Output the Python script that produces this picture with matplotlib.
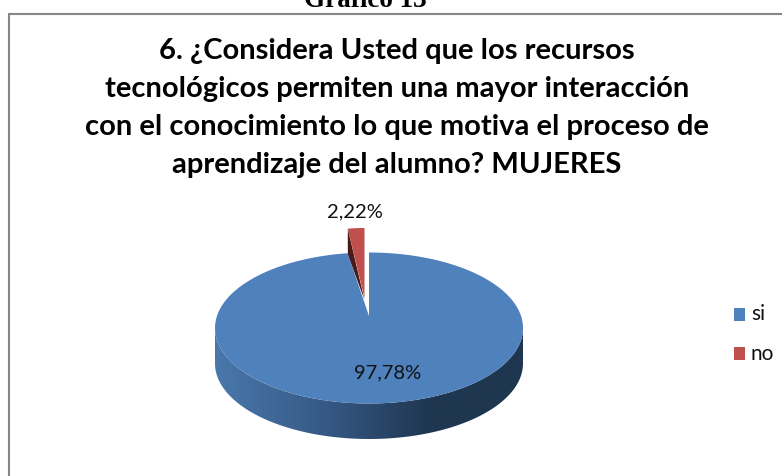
import numpy as np
import matplotlib
matplotlib.use('Agg')
import matplotlib.pyplot as plt
from matplotlib.colors import LinearSegmentedColormap
from matplotlib.patches import Polygon, Rectangle

labels = ['si', 'no']
values = [97.78, 2.22]
value_texts = ['97,78%', '2,22%']
colors = ['#4f81bd', '#c0504d']
heading = 'Gráfico 13'
title_lines = ['6. ¿Considera Usted que los recursos',
               'tecnológicos permiten una mayor interacción',
               'con el conocimiento lo que motiva el proceso de',
               'aprendizaje del alumno? MUJERES']

W, H = 782, 476
fig = plt.figure(figsize=(W / 100, H / 100), dpi=100)
ax = fig.add_axes([0, 0, 1, 1])
ax.set_xlim(0, W)
ax.set_ylim(H, 0)
ax.axis('off')

# pie geometry in pixels
cx, cy = 369, 328
rx, ry = 154, 75.5
depth = 35.5


def arc(a0, a1, x0=cx, y0=cy, ax_r=rx, ay_r=ry, n=200):
    # angles clockwise from the top, degrees
    t = np.radians(np.linspace(a0, a1, n))
    return np.column_stack([x0 + ax_r * np.sin(t), y0 - ay_r * np.cos(t)])


# frame
ax.add_patch(Rectangle((9, 14), 800, 500, fc='white', ec='#868686', lw=1.5))

ax.text(365, 7, heading, family='Liberation Serif', weight='bold', fontsize=19.5,
        ha='center', va='baseline', color='black')
for i, line in enumerate(title_lines):
    ax.text(397, 51 + i * 38, line, family='Lato', weight='bold', fontsize=21,
            ha='center', va='center', color='black')

blue_end = values[0] / sum(values) * 360

# side wall with gradient
front = arc(90, 270)
wall = np.vstack([front, front[::-1] + [0, depth]])
cmap = LinearSegmentedColormap.from_list('wall', [(0, '#4a78ab'), (0.35, '#365a87'),
                                                  (0.7, '#1f3650'), (1, '#1f3650')])
im = ax.imshow(np.linspace(0, 1, 256).reshape(1, -1), cmap=cmap, aspect='auto',
               extent=(cx - rx, cx + rx, cy + ry + depth, cy), zorder=2)
im.set_clip_path(Polygon(wall, transform=ax.transData))
ax.set_xlim(0, W)
ax.set_ylim(H, 0)

# blue top face, apex sits a bit above the ellipse centre
apex = (cx, cy - 12)
ax.add_patch(Polygon(np.vstack([[apex], arc(0, blue_end)]), fc=colors[0], ec='none', zorder=3))

# exploded red slice
rcx, rcy = cx - 4.5, cy - 30
rrx, rry = 120, 70
red = arc(blue_end, 360, rcx, rcy, rrx, rry)
left = red[0]
ax.add_patch(Polygon(np.vstack([left, left + [0, 26], [rcx, rcy + 2]]), fc='#4a1a18', ec='none', zorder=2.5))
ax.add_patch(Polygon(np.vstack([[[rcx, rcy]], red]), fc=colors[1], ec='none', zorder=2.6))

ax.text(388, 373, value_texts[0], family='Lato', fontsize=14.5, ha='center', va='center',
        color='#111111', zorder=5)
ax.text(355, 212, value_texts[1], family='Lato', fontsize=14.5, ha='center', va='center',
        color='#111111', zorder=5)

# legend
for i, (lab, col) in enumerate(zip(labels, colors)):
    y = 314.5 + i * 39
    ax.add_patch(Rectangle((734, y - 6.5), 11, 13, fc=col, ec='none'))
    ax.text(751, y, lab, family='Lato', fontsize=15, ha='left', va='center', color='#111111')

fig.savefig('out.png', dpi=100)
